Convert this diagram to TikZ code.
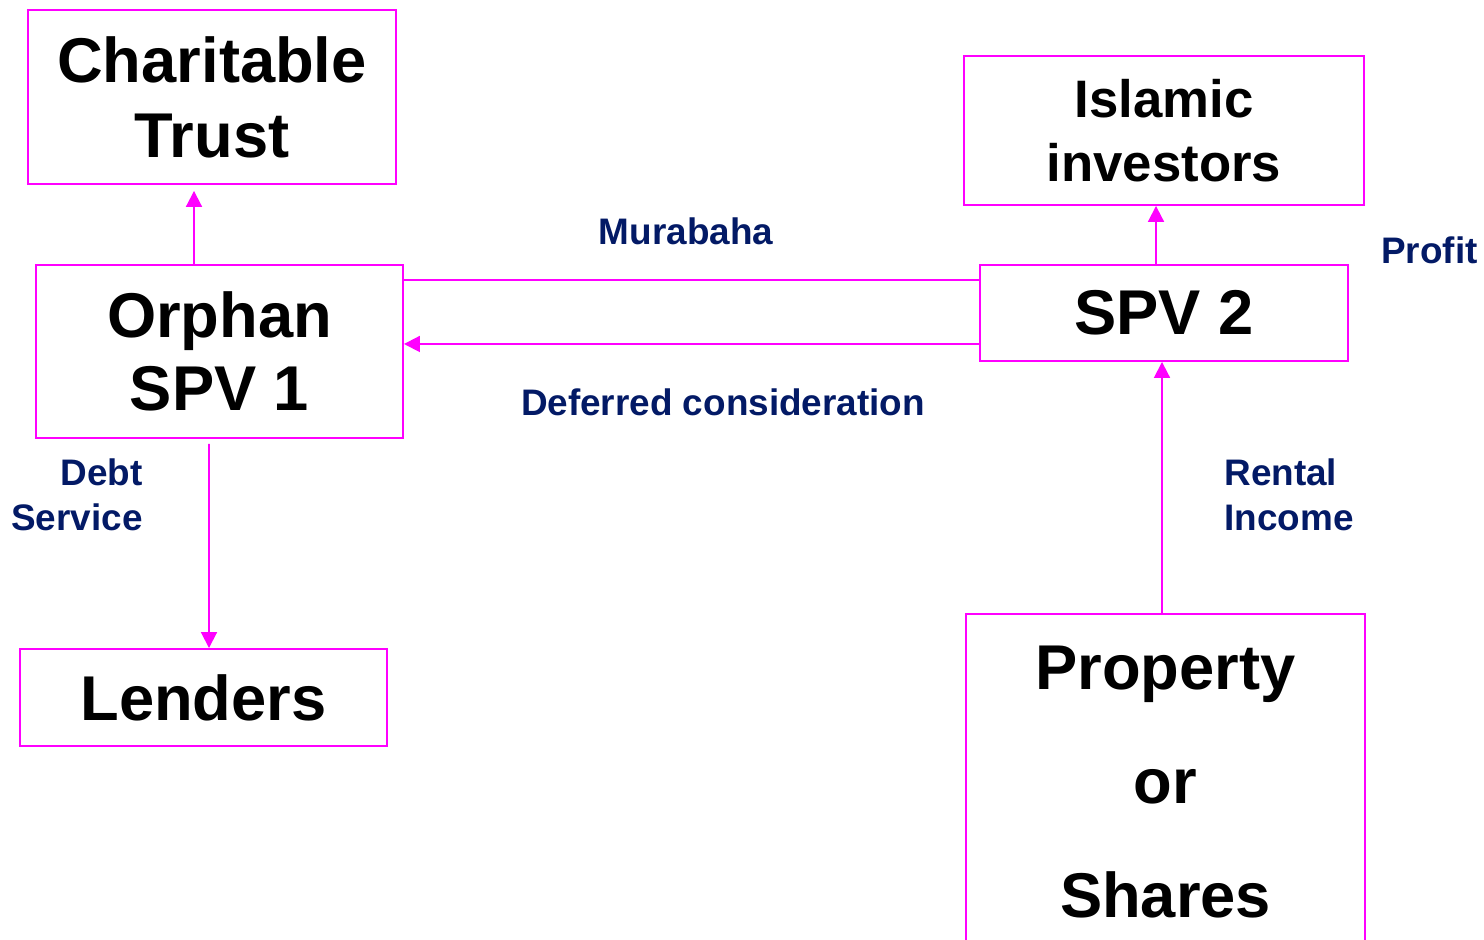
\documentclass[tikz,border=0pt]{standalone}
\usepackage{fontspec}
\setmainfont{Liberation Sans}
\usepackage{xcolor}
\usetikzlibrary{arrows.meta,positioning,calc}
\definecolor{flowmagenta}{HTML}{FF00FF}
\definecolor{flownavy}{HTML}{031A66}

\begin{document}
\begin{tikzpicture}[
    partybox/.style={draw=flowmagenta, line width=1.1pt, align=center, inner sep=0pt, font=\bfseries},
    flowlabel/.style={text=flownavy, inner sep=0pt, font=\fontsize{21}{25.6}\selectfont\bfseries},
    flowarrow/.style={draw=flowmagenta, line width=1.1pt, -{Triangle[width=9pt,length=9pt]}}
  ]
  \useasboundingbox (0,0) rectangle (29.68,18.8);
  % parties
  \node[partybox, minimum width=7.36cm, minimum height=3.48cm, font=\fontsize{36}{42.7}\selectfont\bfseries] (trust) at (4.24,16.86) {Charitable\\Trust};
  \node[partybox, minimum width=7.34cm, minimum height=3.46cm, font=\fontsize{36}{41.5}\selectfont\bfseries] (orphan) at (4.39,11.77) {Orphan\\SPV 1};
  \node[partybox, minimum width=7.34cm, minimum height=1.94cm, font=\fontsize{36}{41.5}\selectfont\bfseries] (lenders) at (4.07,4.85) {Lenders};
  \node[partybox, minimum width=8.0cm, minimum height=2.98cm, font=\fontsize{30}{36.4}\selectfont\bfseries] (investors) at (23.28,16.19) {Islamic\\investors};
  \node[partybox, minimum width=7.36cm, minimum height=1.92cm, font=\fontsize{36}{41.5}\selectfont\bfseries] (spv2) at (23.28,12.54) {SPV 2};
  \node[partybox, minimum width=7.98cm, minimum height=6.72cm, font=\fontsize{36}{65}\selectfont\bfseries] (property) at (23.31,3.16) {Property\\or\\Shares};
  % flows
  \draw[flowarrow, shorten >=0.12cm] ([xshift=-0.51cm]orphan.north) -- ([xshift=-0.36cm]trust.south);
  \draw[flowarrow] ([xshift=-0.16cm]spv2.north) -- ([xshift=-0.16cm]investors.south);
  \draw[flowarrow, shorten <=0.1cm] ([xshift=-0.21cm]orphan.south) -- ([xshift=0.11cm]lenders.north);
  \draw[flowarrow] ([xshift=-0.07cm]property.north) -- ([xshift=-0.04cm]spv2.south);
  \draw[draw=flowmagenta, line width=1.1pt] ([yshift=1.43cm]orphan.east) -- ([yshift=0.66cm]spv2.west);
  \draw[flowarrow] ([yshift=-0.62cm]spv2.west) -- ([yshift=0.15cm]orphan.east);
  % labels
  \node[flowlabel] (murabaha) at (13.72,14.18) {Murabaha};
  \node[flowlabel] (deferred) at (14.46,10.76) {Deferred consideration};
  \node[flowlabel, anchor=west] (profit) at (27.62,13.8) {Profit};
  \node[flowlabel, anchor=east, align=right] (debt) at (2.86,8.9) {Debt\\Service};
  \node[flowlabel, anchor=west, align=left] (rental) at (24.48,8.9) {Rental\\Income};
\end{tikzpicture}
\end{document}
